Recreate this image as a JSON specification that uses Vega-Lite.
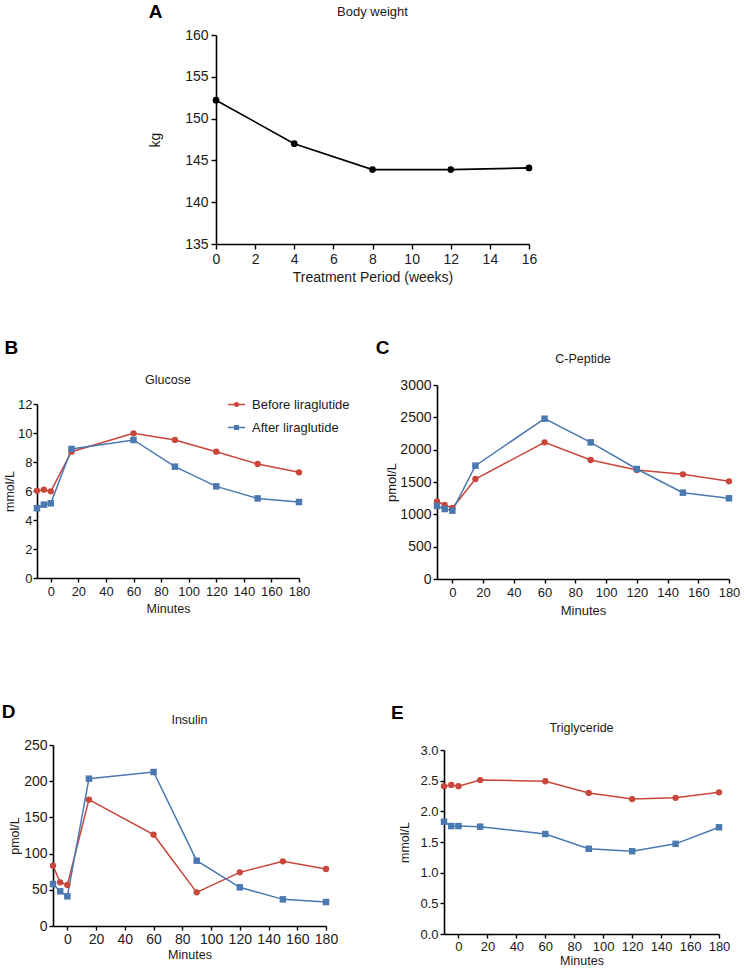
{
  "$schema": "https://vega.github.io/schema/vega-lite/v6.json",
  "background": "white",
  "padding": {"left": 0, "top": 0, "right": 0, "bottom": 0},
  "datasets": {
    "weight": [
      {"week": 0, "kg": 152.2},
      {"week": 4, "kg": 147.0},
      {"week": 8, "kg": 143.9},
      {"week": 12, "kg": 143.9},
      {"week": 16, "kg": 144.1}
    ],
    "ogtt": [
      {"minute": -10, "group": "Before liraglutide", "glucose": 6.02, "cpeptide": 1201, "insulin": 83.3, "tg": 2.41},
      {"minute": -5, "group": "Before liraglutide", "glucose": 6.09, "cpeptide": 1144, "insulin": 60.3, "tg": 2.43},
      {"minute": 0, "group": "Before liraglutide", "glucose": 5.98, "cpeptide": 1098, "insulin": 56.6, "tg": 2.41},
      {"minute": 15, "group": "Before liraglutide", "glucose": 8.71, "cpeptide": 1546, "insulin": 174.5, "tg": 2.51},
      {"minute": 60, "group": "Before liraglutide", "glucose": 9.98, "cpeptide": 2113, "insulin": 126.1, "tg": 2.49},
      {"minute": 90, "group": "Before liraglutide", "glucose": 9.52, "cpeptide": 1840, "insulin": 46.5, "tg": 2.30},
      {"minute": 120, "group": "Before liraglutide", "glucose": 8.71, "cpeptide": 1686, "insulin": 74.1, "tg": 2.20},
      {"minute": 150, "group": "Before liraglutide", "glucose": 7.86, "cpeptide": 1619, "insulin": 89.3, "tg": 2.22},
      {"minute": 180, "group": "Before liraglutide", "glucose": 7.29, "cpeptide": 1510, "insulin": 78.7, "tg": 2.31},
      {"minute": -10, "group": "After liraglutide", "glucose": 4.81, "cpeptide": 1129, "insulin": 58.0, "tg": 1.83},
      {"minute": -5, "group": "After liraglutide", "glucose": 5.06, "cpeptide": 1082, "insulin": 47.9, "tg": 1.76},
      {"minute": 0, "group": "After liraglutide", "glucose": 5.15, "cpeptide": 1057, "insulin": 41.0, "tg": 1.76},
      {"minute": 15, "group": "After liraglutide", "glucose": 8.90, "cpeptide": 1753, "insulin": 203.5, "tg": 1.75},
      {"minute": 60, "group": "After liraglutide", "glucose": 9.52, "cpeptide": 2479, "insulin": 212.7, "tg": 1.63},
      {"minute": 90, "group": "After liraglutide", "glucose": 7.68, "cpeptide": 2113, "insulin": 90.2, "tg": 1.39},
      {"minute": 120, "group": "After liraglutide", "glucose": 6.32, "cpeptide": 1701, "insulin": 53.4, "tg": 1.35},
      {"minute": 150, "group": "After liraglutide", "glucose": 5.49, "cpeptide": 1335, "insulin": 36.8, "tg": 1.47},
      {"minute": 180, "group": "After liraglutide", "glucose": 5.24, "cpeptide": 1248, "insulin": 33.1, "tg": 1.74}
    ]
  },
  "config": {
    "font": "Liberation Sans",
    "view": {"stroke": null},
    "axis": {
      "grid": false,
      "domainColor": "#000000",
      "domainWidth": 1.6,
      "tickColor": "#000000",
      "tickWidth": 1.4,
      "tickSize": 4,
      "labelColor": "#1a1a1a",
      "titleColor": "#1a1a1a",
      "labelFont": "Liberation Sans",
      "titleFont": "Liberation Sans",
      "labelFontSize": 13,
      "titleFontSize": 12.5,
      "titleFontWeight": "normal",
      "labelPadding": 2,
      "labelFlush": false,
      "labelOverlap": false
    },
    "title": {"font": "Liberation Sans", "fontSize": 12.5, "fontWeight": "normal", "color": "#1a1a1a"},
    "legend": {"labelFont": "Liberation Sans", "labelFontSize": 13, "labelColor": "#1a1a1a", "padding": 0}
  },
  "resolve": {"legend": {"color": "independent"}},
  "spacing": 52,
  "vconcat": [
    {
      "spacing": 0,
      "vconcat": [
        {"width": 1, "height": 3, "view": {"fill": "#ffffff", "fillOpacity": 0, "stroke": null}, "data": {"values": []}, "mark": "point"},
        {
          "spacing": 0,
          "hconcat": [
            {"width": 148, "height": 1, "view": {"fill": "#ffffff", "fillOpacity": 0, "stroke": null}, "data": {"values": []}, "mark": "point"},
            {
              "title": {"text": "A", "anchor": "start", "fontSize": 19, "fontWeight": "bold", "color": "#000000", "offset": -16, "dx": 0},
              "hconcat": [
                {
                  "width": 313,
                  "height": 209,
                  "title": {"text": "Body weight", "fontSize": 13, "offset": 9},
                  "data": {"name": "weight"},
                  "encoding": {
                    "x": {"field": "week", "type": "quantitative", "scale": {"domain": [0, 16], "nice": false},
                      "axis": {"values": [0, 2, 4, 6, 8, 10, 12, 14, 16], "title": "Treatment Period (weeks)", "labelFontSize": 14, "titleFontSize": 14, "titlePadding": 4, "tickSize": 5, "labelPadding": 3}},
                    "y": {"field": "kg", "type": "quantitative", "scale": {"domain": [135, 160], "nice": false, "zero": false},
                      "axis": {"values": [135, 140, 145, 150, 155, 160], "title": "kg", "labelFontSize": 14, "titleFontSize": 14, "titlePadding": 22, "tickSize": 5, "labelPadding": 3}}
                  },
                  "layer": [
                    {"mark": {"type": "line", "color": "#000000", "strokeWidth": 1.6}},
                    {"mark": {"type": "point", "filled": true, "color": "#000000", "size": 45, "opacity": 1}}
                  ]
                }
              ]
            }
          ]
        }
      ]
    },
    {
      "spacing": 24,
      "resolve": {"legend": {"color": "independent"}},
      "hconcat": [
        {
          "spacing": 0,
          "resolve": {"legend": {"color": "independent"}},
          "vconcat": [
            {"width": 1, "height": 2, "view": {"fill": "#ffffff", "fillOpacity": 0, "stroke": null}, "data": {"values": []}, "mark": "point"},
            {
              "spacing": 0,
              "resolve": {"legend": {"color": "independent"}},
              "hconcat": [
                {"width": 3, "height": 1, "view": {"fill": "#ffffff", "fillOpacity": 0, "stroke": null}, "data": {"values": []}, "mark": "point"},
                {
                  "title": {"text": "B", "anchor": "start", "fontSize": 19, "fontWeight": "bold", "color": "#000000", "offset": 16, "dx": 1},
                  "resolve": {"legend": {"color": "independent"}},
                  "hconcat": [
                    {
                      "width": 262,
                      "height": 174,
                      "title": {"text": "Glucose", "offset": 9},
                      "data": {"name": "ogtt"},
                      "encoding": {
                        "x": {"field": "minute", "type": "quantitative", "scale": {"domain": [-10, 180], "nice": false, "zero": false},
                          "axis": {"values": [0, 20, 40, 60, 80, 100, 120, 140, 160, 180], "title": "Minutes", "titlePadding": 4, "labelPadding": 3}},
                        "y": {"field": "glucose", "type": "quantitative", "scale": {"domain": [0, 12], "nice": false},
                          "axis": {"values": [0, 2, 4, 6, 8, 10, 12], "title": "mmol/L", "titlePadding": 1, "labelPadding": 1}},
                        "color": {"field": "group", "type": "nominal",
                          "scale": {"domain": ["Before liraglutide", "After liraglutide"], "range": ["#c8463a", "#4a78b0"]},
                          "legend": {
                            "title": null, "orient": "none", "legendX": 190, "legendY": -9,
                            "symbolSize": 289, "symbolStrokeWidth": 1.5, "rowPadding": 6, "labelOffset": 6,
                            "encode": {
                              "symbols": {"update": {
                                "shape": {"signal": "datum.value === 'Before liraglutide' ? 'M-1,0L1,0M0.22,0A0.22,0.22,0,1,1,-0.22,0A0.22,0.22,0,1,1,0.22,0Z' : 'M-1,0L1,0M-0.21,-0.21L0.21,-0.21L0.21,0.21L-0.21,0.21Z'"},
                                "fill": {"signal": "datum.value === 'Before liraglutide' ? '#c8463a' : '#4a78b0'"},
                                "stroke": {"signal": "datum.value === 'Before liraglutide' ? '#c8463a' : '#4a78b0'"},
                                "fillOpacity": {"value": 1},
                                "strokeWidth": {"value": 1.5}
                              }}
                            }
                          }}
                      },
                      "layer": [
                        {"mark": {"type": "line", "strokeWidth": 1.5}},
                        {"transform": [{"filter": "datum.group === 'Before liraglutide'"}], "mark": {"type": "point", "shape": "circle", "filled": true, "opacity": 1, "size": 40}},
                        {"transform": [{"filter": "datum.group === 'After liraglutide'"}], "mark": {"type": "point", "shape": "square", "filled": true, "opacity": 1, "size": 42}}
                      ]
                    }
                  ]
                }
              ]
            }
          ]
        },
        {
          "spacing": 0,
          "resolve": {"legend": {"color": "independent"}},
          "vconcat": [
            {"width": 1, "height": 2, "view": {"fill": "#ffffff", "fillOpacity": 0, "stroke": null}, "data": {"values": []}, "mark": "point"},
            {
              "spacing": 0,
              "resolve": {"legend": {"color": "independent"}},
              "hconcat": [
                {"width": 1, "height": 1, "view": {"fill": "#ffffff", "fillOpacity": 0, "stroke": null}, "data": {"values": []}, "mark": "point"},
                {
                  "title": {"text": "C", "anchor": "start", "fontSize": 19, "fontWeight": "bold", "color": "#000000", "offset": -5, "dx": -10},
                  "hconcat": [
                    {
                      "width": 292,
                      "height": 194,
                      "title": {"text": "C-Peptide", "offset": 13},
                      "data": {"name": "ogtt"},
                      "encoding": {
                        "x": {"field": "minute", "type": "quantitative", "scale": {"domain": [-10, 180], "nice": false, "zero": false},
                          "axis": {"values": [0, 20, 40, 60, 80, 100, 120, 140, 160, 180], "title": "Minutes", "titlePadding": 5, "titleFontSize": 13, "labelPadding": 3}},
                        "y": {"field": "cpeptide", "type": "quantitative", "scale": {"domain": [0, 3000], "nice": false},
                          "axis": {"values": [0, 500, 1000, 1500, 2000, 2500, 3000], "format": "d", "title": "pmol/L", "titlePadding": 1, "titleFontSize": 13, "labelFontSize": 14}},
                        "color": {"field": "group", "type": "nominal",
                          "scale": {"domain": ["Before liraglutide", "After liraglutide"], "range": ["#c8463a", "#4a78b0"]}, "legend": null}
                      },
                      "layer": [
                        {"mark": {"type": "line", "strokeWidth": 1.5}},
                        {"transform": [{"filter": "datum.group === 'Before liraglutide'"}], "mark": {"type": "point", "shape": "circle", "filled": true, "opacity": 1, "size": 40}},
                        {"transform": [{"filter": "datum.group === 'After liraglutide'"}], "mark": {"type": "point", "shape": "square", "filled": true, "opacity": 1, "size": 42}}
                      ]
                    }
                  ]
                }
              ]
            }
          ]
        }
      ]
    },
    {
      "spacing": 51,
      "resolve": {"legend": {"color": "independent"}},
      "hconcat": [
        {
          "spacing": 0,
          "vconcat": [
            {"width": 1, "height": 33, "view": {"fill": "#ffffff", "fillOpacity": 0, "stroke": null}, "data": {"values": []}, "mark": "point"},
            {
              "spacing": 0,
              "hconcat": [
                {"width": 1, "height": 1, "view": {"fill": "#ffffff", "fillOpacity": 0, "stroke": null}, "data": {"values": []}, "mark": "point"},
                {
                  "title": {"text": "D", "anchor": "start", "fontSize": 19, "fontWeight": "bold", "color": "#000000", "offset": -8, "dx": -7},
                  "hconcat": [
                    {
                      "width": 273,
                      "height": 181,
                      "title": {"text": "Insulin", "offset": 12},
                      "data": {"name": "ogtt"},
                      "encoding": {
                        "x": {"field": "minute", "type": "quantitative", "scale": {"domain": [-10, 180], "nice": false, "zero": false},
                          "axis": {"values": [0, 20, 40, 60, 80, 100, 120, 140, 160, 180], "title": "Minutes", "titlePadding": 2, "labelFontSize": 14}},
                        "y": {"field": "insulin", "type": "quantitative", "scale": {"domain": [0, 250], "nice": false},
                          "axis": {"values": [0, 50, 100, 150, 200, 250], "title": "pmol/L", "titlePadding": 2, "labelFontSize": 14}},
                        "color": {"field": "group", "type": "nominal",
                          "scale": {"domain": ["Before liraglutide", "After liraglutide"], "range": ["#c8463a", "#4a78b0"]}, "legend": null}
                      },
                      "layer": [
                        {"mark": {"type": "line", "strokeWidth": 1.5}},
                        {"transform": [{"filter": "datum.group === 'Before liraglutide'"}], "mark": {"type": "point", "shape": "circle", "filled": true, "opacity": 1, "size": 40}},
                        {"transform": [{"filter": "datum.group === 'After liraglutide'"}], "mark": {"type": "point", "shape": "square", "filled": true, "opacity": 1, "size": 42}}
                      ]
                    }
                  ]
                }
              ]
            }
          ]
        },
        {
          "spacing": 0,
          "vconcat": [
            {"width": 1, "height": 34, "view": {"fill": "#ffffff", "fillOpacity": 0, "stroke": null}, "data": {"values": []}, "mark": "point"},
            {
              "spacing": 0,
              "hconcat": [
                {"width": 1, "height": 1, "view": {"fill": "#ffffff", "fillOpacity": 0, "stroke": null}, "data": {"values": []}, "mark": "point"},
                {
                  "title": {"text": "E", "anchor": "start", "fontSize": 19, "fontWeight": "bold", "color": "#000000", "offset": -1, "dx": -8},
                  "hconcat": [
                    {
                      "width": 275,
                      "height": 184,
                      "title": {"text": "Triglyceride", "offset": 10},
                      "data": {"name": "ogtt"},
                      "encoding": {
                        "x": {"field": "minute", "type": "quantitative", "scale": {"domain": [-10, 180], "nice": false, "zero": false},
                          "axis": {"values": [0, 20, 40, 60, 80, 100, 120, 140, 160, 180], "title": "Minutes", "titlePadding": 1}},
                        "y": {"field": "tg", "type": "quantitative", "scale": {"domain": [0, 3], "nice": false},
                          "axis": {"values": [0, 0.5, 1, 1.5, 2, 2.5, 3], "format": ".1f", "title": "mmol/L", "titlePadding": 8}},
                        "color": {"field": "group", "type": "nominal",
                          "scale": {"domain": ["Before liraglutide", "After liraglutide"], "range": ["#c8463a", "#4a78b0"]}, "legend": null}
                      },
                      "layer": [
                        {"mark": {"type": "line", "strokeWidth": 1.5}},
                        {"transform": [{"filter": "datum.group === 'Before liraglutide'"}], "mark": {"type": "point", "shape": "circle", "filled": true, "opacity": 1, "size": 40}},
                        {"transform": [{"filter": "datum.group === 'After liraglutide'"}], "mark": {"type": "point", "shape": "square", "filled": true, "opacity": 1, "size": 42}}
                      ]
                    }
                  ]
                }
              ]
            }
          ]
        }
      ]
    }
  ]
}
